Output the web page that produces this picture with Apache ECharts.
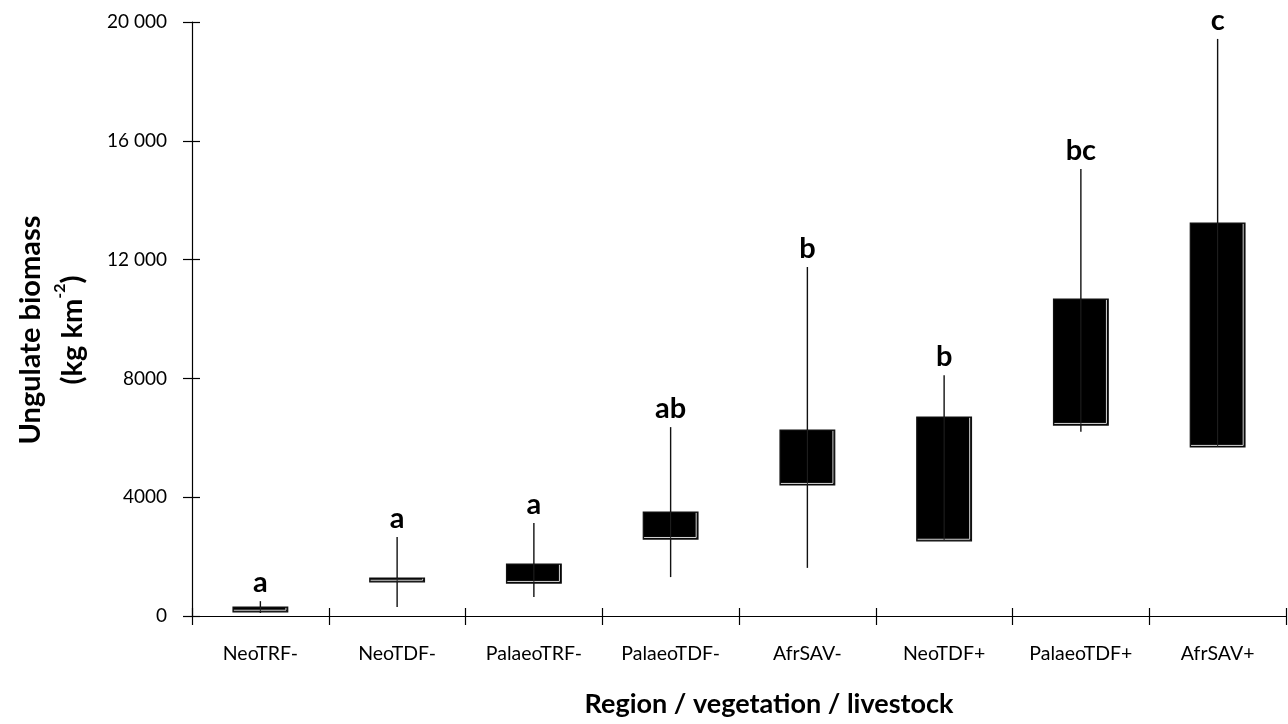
<!DOCTYPE html>
<html>
<head>
<meta charset="utf-8">
<script src="https://cdn.jsdelivr.net/npm/echarts@6/dist/echarts.min.js"></script>
<style>
html,body{margin:0;padding:0;background:#fff;}
#chart{width:1288px;height:724px;}
</style>
</head>
<body>
<div id="chart"></div>
<script>
const categories = ['NeoTRF-', 'NeoTDF-', 'PalaeoTRF-', 'PalaeoTDF-', 'AfrSAV-', 'NeoTDF+', 'PalaeoTDF+', 'AfrSAV+'];
const whiskerMin = [100, 300, 640, 1310, 1620, 2530, 6200, 5690];
const q1 = [140, 1150, 1110, 2590, 4410, 2530, 6430, 5690];
const q3 = [300, 1280, 1750, 3500, 6260, 6700, 10670, 13230];
const whiskerMax = [500, 2660, 3130, 6360, 11750, 8110, 15050, 19430];
const letters = ['a', 'a', 'a', 'ab', 'b', 'b', 'bc', 'c'];
const yTicks = [0, 4000, 8000, 12000, 16000, 20000];

const FONT = 'Lato';
const boxData = categories.map((c, i) => [i, whiskerMin[i], q1[i], q3[i], whiskerMax[i]]);
const letterData = categories.map((c, i) => ({ value: [i, whiskerMax[i]], letter: letters[i] }));

function fmtY(v) {
  if (v >= 10000) {
    const s = String(v);
    return s.slice(0, s.length - 3) + ' ' + s.slice(s.length - 3);
  }
  return String(v);
}

const chart = echarts.init(document.getElementById('chart'), null, { renderer: 'canvas' });
const grid = { left: 192, right: 2, top: 22, bottom: 108 };
chart.setOption({
  backgroundColor: '#fff',
  animation: false,
  grid: grid,
  xAxis: [{
    type: 'category',
    data: categories,
    boundaryGap: true,
    axisLine: { lineStyle: { color: '#000', width: 1.2 } },
    axisTick: { show: true, inside: false, length: 9, lineStyle: { color: '#000', width: 1.2 } },
    axisLabel: { color: '#000', fontFamily: FONT, fontSize: 19.5, margin: 28, interval: 0 },
    splitLine: { show: false }
  }, {
    type: 'category',
    data: categories,
    position: 'bottom',
    boundaryGap: true,
    axisLine: { show: false },
    axisTick: { show: true, inside: true, length: 8, lineStyle: { color: '#000', width: 1.2 } },
    axisLabel: { show: false },
    splitLine: { show: false }
  }],
  yAxis: [{
    type: 'value',
    min: 0,
    max: 20000,
    interval: 4000,
    axisLine: { show: true, lineStyle: { color: '#000', width: 1.2 } },
    axisTick: { show: true, inside: false, length: 9, lineStyle: { color: '#000', width: 1.2 } },
    axisLabel: { color: '#000', fontFamily: FONT, fontSize: 19, margin: 25, formatter: fmtY },
    splitLine: { show: false }
  }, {
    type: 'value',
    min: 0,
    max: 20000,
    interval: 4000,
    position: 'left',
    axisLine: { show: false },
    axisTick: { show: true, inside: true, length: 8, lineStyle: { color: '#000', width: 1.2 } },
    axisLabel: { show: false },
    splitLine: { show: false }
  }],
  series: [{
    type: 'custom',
    xAxisIndex: 0,
    yAxisIndex: 0,
    data: boxData,
    encode: { x: 0, y: [1, 2, 3, 4] },
    renderItem: function (params, api) {
      const i = api.value(0);
      const x = api.coord([i, 0])[0];
      const yMin = api.coord([i, api.value(1)])[1];
      const yQ1 = api.coord([i, api.value(2)])[1];
      const yQ3 = api.coord([i, api.value(3)])[1];
      const yMax = api.coord([i, api.value(4)])[1];
      const w = api.size([1, 0])[0] * 0.4;
      const l = x - w / 2, r = x + w / 2;
      return {
        type: 'group',
        children: [
          { type: 'rect', shape: { x: l, y: yQ3, width: w, height: yQ1 - yQ3 },
            style: { fill: '#000', stroke: '#111', lineWidth: 1.2 } },
          { type: 'polyline', shape: { points: [[r - 1.8, yQ3 + 0.8], [r - 1.8, yQ1 - 1.6], [l + 0.8, yQ1 - 1.6]] },
            style: { fill: null, stroke: '#d6d6d6', lineWidth: 1 } },
          { type: 'line', shape: { x1: x, y1: yMax, x2: x, y2: yQ3 },
            style: { stroke: '#111', lineWidth: 1.4 } },
          { type: 'line', shape: { x1: x, y1: yQ1, x2: x, y2: yMin },
            style: { stroke: '#111', lineWidth: 1.4 } },
          { type: 'line', shape: { x1: x, y1: yQ3, x2: x, y2: yQ1 },
            style: { stroke: '#222', lineWidth: 1 } }
        ]
      };
    }
  }, {
    type: 'scatter',
    xAxisIndex: 0,
    yAxisIndex: 0,
    symbolSize: 0,
    itemStyle: { opacity: 1 },
    data: letterData,
    label: {
      show: true,
      position: 'top',
      distance: 4,
      formatter: p => p.data.letter,
      color: '#000',
      fontFamily: FONT,
      fontWeight: 'bold',
      fontSize: 29
    }
  }],
  graphic: [{
    type: 'text',
    x: 769,
    y: 704,
    style: {
      text: 'Region / vegetation / livestock',
      fill: '#000',
      font: 'bold 27px Lato',
      textAlign: 'center',
      textVerticalAlign: 'middle'
    }
  }, {
    type: 'text',
    x: 52,
    y: 330,
    rotation: Math.PI / 2,
    style: {
      text: '{b|Ungulate biomass}\n{b|(kg km}{s|-2}{b|)}',
      fill: '#000',
      align: 'center',
      verticalAlign: 'middle',
      rich: {
        b: { fontFamily: FONT, fontWeight: 'bold', fontSize: 29, lineHeight: 42, fill: '#000' },
        s: { fontFamily: FONT, fontWeight: 'bold', fontSize: 16, lineHeight: 42, verticalAlign: 'top', padding: [0, 0, 18, 0], fill: '#000' }
      }
    }
  }]
});
</script>
</body>
</html>
